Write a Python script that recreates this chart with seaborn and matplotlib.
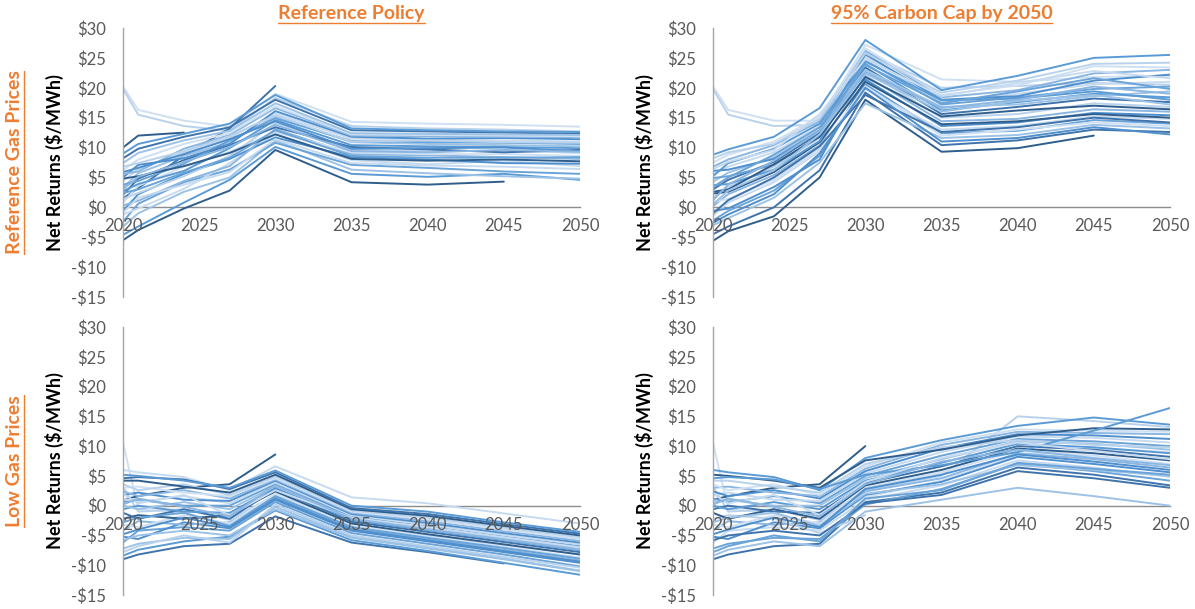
import numpy as np
import pandas as pd
import matplotlib
matplotlib.use("Agg")
import matplotlib.pyplot as plt
from matplotlib.ticker import FuncFormatter
from matplotlib.lines import Line2D
import seaborn as sns

nan = np.nan

# Model years at which net returns were evaluated
years = [2020, 2021, 2024, 2027, 2030, 2035, 2040, 2045, 2050]
x_ticks = [2020, 2025, 2030, 2035, 2040, 2045, 2050]
y_ticks = [-15, -10, -5, 0, 5, 10, 15, 20, 25, 30]

col_titles = ["Reference Policy", "95% Carbon Cap by 2050"]
row_titles = ["Reference Gas Prices", "Low Gas Prices"]
y_label = "Net Returns ($/MWh)"

# Net returns ($/MWh) per resource portfolio, one list per trajectory
ref_policy_ref_gas = [
    [20.2, 16.3, 14.5, 13.5, 19.0, 14.3, 14.0, 13.8, 13.5],
    [19.8, 15.5, 13.6, 12.8, 18.3, 13.6, 13.2, 13.0, 12.7],
    [10.0, 12.0, 12.5, nan, nan, nan, nan, nan, nan],
    [1.5, 3.2, 8.7, 13.2, 20.3, nan, nan, nan, nan],
    [-4.6, -3.2, 0.8, 4.6, 10.1, 5.6, 5.1, 5.6, 4.6],
    [-3.2, -1.0, 2.6, 5.0, 11.2, 6.3, 5.7, 5.2, 4.8],
    [-2.4, 0.6, 4.2, 6.3, 10.8, 7.1, 6.6, 6.0, 5.6],
    [-1.2, -0.2, 3.1, 7.4, 12.3, 7.9, 7.2, 7.8, 6.9],
    [-0.6, 2.2, 5.6, 8.1, 11.7, 8.4, 8.0, 7.4, 7.3],
    [0.3, 1.1, 4.4, 6.9, 13.1, 8.9, 8.7, 8.4, 8.1],
    [0.8, 3.6, 6.8, 9.3, 12.6, 9.2, 8.9, 8.9, 8.6],
    [1.4, 2.4, 5.2, 8.6, 14.1, 9.6, 9.4, 9.5, 9.1],
    [-5.5, -3.8, -0.2, 2.8, 9.6, 4.2, 3.8, 4.3, nan],
    [2.1, 4.8, 7.9, 10.4, 13.4, 10.1, 9.7, 9.2, 9.6],
    [2.7, 3.9, 6.1, 9.9, 14.6, 10.4, 10.2, 10.1, 9.9],
    [3.3, 5.7, 8.6, 10.9, 15.2, 10.9, 10.6, 10.4, 10.2],
    [3.8, 4.4, 7.3, 11.2, 14.9, 11.1, 10.9, 10.8, 10.6],
    [4.4, 6.4, 9.2, 11.6, 15.7, 11.5, 11.3, 11.2, 11.0],
    [5.0, 7.1, 8.2, 10.6, 16.1, 11.8, 11.5, 11.6, 11.4],
    [5.6, 6.0, 9.8, 12.1, 16.6, 12.0, 11.9, 11.8, 11.7],
    [6.2, 8.0, 10.6, 12.4, 16.9, 12.2, 12.1, 12.0, 11.9],
    [6.8, 7.4, 9.4, 11.9, 15.4, 11.0, 11.2, 10.9, 10.8],
    [4.8, 5.2, 6.9, 9.1, 12.2, 8.1, 7.8, 8.0, 7.7],
    [8.2, 9.8, 11.8, 13.4, 18.0, 12.9, 12.7, 12.5, 12.3],
    [9.0, 10.6, 12.3, 14.0, 18.8, 13.2, 12.9, 12.7, 12.6],
    [7.4, 9.1, 11.2, 12.8, 17.4, 12.4, 12.3, 12.2, 12.1],
    [2.4, 3.0, 5.8, 8.3, 12.9, 8.6, 8.3, 8.3, 8.4],
    [-0.9, 1.6, 3.8, 5.9, 11.4, 7.4, 7.0, 6.8, 6.4],
    [5.9, 6.6, 8.9, 11.4, 14.4, 9.8, 9.9, 10.0, 9.4],
    [3.0, 5.1, 7.6, 10.1, 13.8, 9.4, 9.2, 9.6, 9.3],
]

carbon_cap_ref_gas = [
    [20.2, 16.3, 14.5, 14.5, 27.2, 21.4, 21.0, 21.8, 22.0],
    [19.8, 15.5, 13.6, 13.8, 26.0, 20.0, 20.3, 20.8, 20.5],
    [-5.6, -4.0, -1.5, 5.0, 18.0, 9.3, 9.9, 12.0, nan],
    [-4.5, -3.2, 0.0, 6.2, 19.2, 10.4, 11.2, 13.0, 12.6],
    [8.8, 9.7, 11.8, 16.6, 28.0, 19.6, 22.0, 25.0, 25.5],
    [-3.0, -1.8, 1.6, 7.5, 17.4, 11.6, 12.1, 13.8, 13.2],
    [-2.2, -0.6, 2.8, 8.6, 20.6, 12.4, 12.8, 14.6, 14.0],
    [-1.4, 0.8, 4.2, 9.4, 19.8, 13.0, 13.6, 15.2, 14.8],
    [-0.6, -0.2, 3.4, 8.0, 21.4, 13.6, 14.2, 15.8, 15.4],
    [0.2, 2.2, 5.4, 10.4, 22.0, 14.4, 14.8, 16.4, 16.0],
    [0.9, 1.4, 4.6, 9.8, 20.2, 12.0, 13.0, 14.2, 13.6],
    [1.6, 3.4, 6.8, 11.6, 22.8, 15.0, 15.6, 17.4, 16.8],
    [2.3, 2.6, 5.9, 10.9, 21.0, 13.9, 14.4, 15.6, 15.0],
    [3.0, 4.6, 7.6, 12.4, 23.4, 15.6, 16.8, 18.2, 17.6],
    [3.7, 3.9, 6.3, 11.1, 24.0, 16.2, 17.6, 19.0, 18.4],
    [4.3, 5.8, 8.4, 13.0, 23.0, 16.8, 17.2, 18.6, 19.4],
    [4.9, 5.2, 7.1, 12.0, 24.6, 17.2, 18.4, 19.8, 20.2],
    [5.5, 6.8, 9.2, 13.6, 25.2, 17.6, 19.0, 20.6, 21.0],
    [6.1, 6.3, 8.1, 12.8, 25.6, 18.0, 18.6, 21.2, 22.2],
    [6.8, 8.0, 10.4, 14.4, 26.2, 18.4, 19.6, 22.4, 23.0],
    [7.5, 8.8, 11.0, 15.2, 26.6, 18.8, 20.4, 23.6, 23.4],
    [8.2, 9.2, 10.6, 14.8, 25.8, 19.2, 21.2, 24.0, 24.2],
    [2.6, 3.0, 7.2, 11.8, 21.8, 15.2, 16.2, 17.0, 16.4],
    [-1.0, 1.2, 5.0, 10.2, 18.8, 12.6, 13.4, 15.0, 14.2],
    [5.2, 7.4, 9.8, 14.0, 24.4, 17.9, 18.2, 19.4, 18.0],
    [0.5, 2.8, 6.2, 12.2, 22.4, 16.0, 17.8, 18.8, 17.2],
    [3.4, 5.0, 8.8, 13.4, 23.8, 17.4, 19.4, 21.6, 19.8],
    [6.4, 7.6, 9.6, 15.6, 24.8, 18.6, 20.8, 22.8, 21.6],
    [-2.6, -1.2, 2.2, 9.0, 20.0, 11.0, 11.6, 13.4, 12.2],
    [1.2, 3.8, 7.8, 12.8, 22.6, 16.6, 18.0, 20.2, 19.0],
]

ref_policy_low_gas = [
    [10.6, -0.6, -1.2, -3.2, 0.8, -3.6, -5.0, -6.6, -8.2],
    [3.2, -1.0, -0.6, -2.4, 1.8, -2.6, -4.0, -5.6, -7.2],
    [1.0, 1.6, 3.0, 3.6, 8.6, nan, nan, nan, nan],
    [-9.0, -8.2, -6.8, -6.4, -1.8, -6.2, -7.8, -9.7, nan],
    [-8.4, -7.4, -6.0, -5.2, -0.8, -5.8, -7.6, -9.6, -11.6],
    [-7.2, -6.4, -5.4, -5.6, -0.2, -5.2, -7.0, -8.9, -10.9],
    [-6.2, -4.2, -3.6, -4.2, 0.6, -4.6, -6.4, -8.2, -10.2],
    [6.0, 5.6, 4.8, 2.6, 6.6, 1.4, 0.4, -1.3, -3.0],
    [-5.2, -5.6, -2.8, -3.8, 1.0, -4.2, -6.0, -7.8, -9.6],
    [-4.2, -2.6, -3.2, -2.8, 1.4, -3.8, -5.6, -7.4, -9.2],
    [-3.2, -3.6, -1.6, -3.0, 2.0, -3.4, -5.2, -6.9, -8.7],
    [-7.8, -6.8, -5.0, -6.2, 0.2, -5.0, -6.8, -8.6, -10.4],
    [-2.2, -1.6, -2.2, -1.6, 2.4, -3.0, -4.8, -6.5, -8.2],
    [-1.2, -2.2, -0.6, -2.2, 2.8, -2.7, -4.4, -6.1, -7.8],
    [-0.6, 0.0, -1.0, -1.2, 3.0, -2.4, -4.1, -5.8, -7.5],
    [0.0, -0.6, 0.6, -0.6, 3.3, -2.1, -3.8, -5.5, -7.2],
    [0.6, 1.0, 0.0, 0.0, 3.6, -1.8, -3.5, -5.2, -6.8],
    [1.2, 0.6, 1.6, 0.4, 3.9, -1.6, -3.2, -4.9, -6.5],
    [1.8, 2.2, 1.0, 0.8, 4.2, -1.4, -2.9, -4.6, -6.2],
    [2.4, 1.6, 2.6, 1.2, 4.4, -1.2, -2.6, -4.3, -5.9],
    [3.0, 3.2, 2.2, 1.6, 4.6, -1.0, -2.3, -4.0, -5.6],
    [3.6, 2.6, 3.6, 1.8, 4.9, -0.8, -2.0, -3.7, -5.3],
    [4.2, 4.2, 3.2, 2.2, 5.2, -0.6, -1.7, -3.4, -5.0],
    [4.6, 4.8, 4.4, 2.8, 5.6, -0.4, -1.4, -3.1, -4.7],
    [5.2, 5.0, 4.2, 3.0, 5.9, 0.0, -1.0, -2.8, -4.4],
    [-5.8, -5.0, -4.2, -5.0, -0.6, -5.4, -7.2, -9.0, -11.0],
    [-2.8, -2.0, -1.2, -3.4, 1.6, -3.6, -5.4, -7.1, -8.9],
    [2.0, 0.4, 1.8, -1.6, 2.6, -2.0, -3.6, -5.3, -7.0],
    [-4.8, -4.0, -2.0, -3.6, 1.2, -4.0, -5.8, -7.6, -9.4],
    [0.2, 1.2, -0.2, -1.8, 3.4, -2.2, -4.0, -5.7, -7.4],
]

carbon_cap_low_gas = [
    [10.6, -0.6, -1.2, -3.2, 1.4, 4.2, 8.4, 9.6, 9.0],
    [3.2, -1.0, -0.6, -2.4, 2.6, 5.0, 15.0, 14.2, 13.2],
    [1.0, 1.6, 3.0, 3.6, 10.0, nan, nan, nan, nan],
    [-9.0, -8.2, -6.8, -6.4, 0.6, 2.2, 6.4, 5.2, 3.4],
    [6.0, 5.6, 4.8, 2.6, 8.0, 11.0, 13.4, 14.8, 13.6],
    [-8.4, -7.4, -6.0, -6.8, -1.0, 1.0, 3.0, 1.6, 0.0],
    [-7.2, -6.4, -5.4, -5.6, 0.2, 2.8, 7.0, 5.8, 4.2],
    [-6.2, -4.2, -3.6, -4.2, 1.0, 3.4, 7.6, 6.4, 4.8],
    [-5.2, -5.6, -2.8, -3.8, 1.8, 4.0, 8.2, 7.0, 5.6],
    [-4.2, -2.6, -3.2, -2.8, 2.4, 4.6, 8.8, 7.8, 6.4],
    [-3.2, -3.6, -1.6, -3.0, 3.0, 5.6, 9.2, 8.4, 7.0],
    [-2.2, -1.6, -2.2, -4.6, -1.6, nan, nan, nan, nan],
    [-1.2, -2.2, -0.6, -2.2, 3.4, 6.0, 9.6, 8.8, 7.6],
    [-0.6, 0.0, -1.0, -1.2, 3.8, 6.6, 10.0, 9.4, 8.2],
    [0.0, -0.6, 0.6, -0.6, 4.2, 7.2, 10.4, 9.8, 8.8],
    [0.6, 1.0, 0.0, 0.0, 4.6, 7.8, 10.8, 10.4, 9.4],
    [1.2, 0.6, 1.6, 0.4, 5.0, 8.4, 11.2, 10.8, 10.0],
    [1.8, 2.2, 1.0, 0.8, 5.4, 9.0, 11.6, 11.4, 10.6],
    [2.4, 1.6, 2.6, 1.2, 5.8, 9.6, 12.0, 11.8, 11.2],
    [3.0, 3.2, 2.2, 1.6, 6.2, 10.2, 12.4, 12.2, 12.0],
    [3.6, 2.6, 3.6, 1.8, 6.6, 10.6, 12.8, 12.6, 12.4],
    [4.2, 4.2, 3.2, 2.2, 7.0, 9.8, 11.0, 10.2, 9.8],
    [5.2, 5.0, 4.2, 3.0, 7.6, 9.4, 11.8, 13.0, 12.8],
    [-5.8, -5.0, -4.2, -5.0, 0.4, 1.8, 5.8, 4.6, 3.0],
    [4.6, 4.8, 4.4, 2.8, 5.2, 6.8, 9.0, 12.6, 16.4],
    [-2.8, -2.0, -1.2, -3.4, 2.0, 3.6, 6.8, 6.0, 5.0],
    [-7.8, -6.8, -5.0, -6.0, 1.2, 2.6, 7.2, 6.2, 5.2],
    [2.0, 0.4, 1.8, -1.6, 4.0, 8.0, 10.6, 9.2, 7.8],
    [-4.8, -4.0, -2.0, -3.6, 2.8, 5.2, 8.6, 7.4, 6.0],
    [0.2, 1.2, -0.2, -1.8, 3.6, 7.4, 9.4, 8.0, 6.8],
]

panels = [[ref_policy_ref_gas, carbon_cap_ref_gas],
          [ref_policy_low_gas, carbon_cap_low_gas]]

# Monochrome blue shades cycled across trajectories
shades = ["#cfe0f3", "#b9d2ec", "#2f5e8c", "#3f73ab", "#5b9bd5",
          "#9cc2e6", "#6aa3d8", "#c6daf0", "#4f8fcd", "#8ab6e1"]

ORANGE = "#ED7D31"
TICK_GRAY = "#595959"
AXIS_GRAY = "#a6a6a6"

sns.set_style("white")
plt.rcParams["font.family"] = ["Lato", "DejaVu Sans"]

W, H = 1195, 609
fig = plt.figure(figsize=(W / 100, H / 100), dpi=100)

col_left = [123, 713]
ax_w = 457
row_top = [28, 327]
ax_h = [269, 268]


def money(v, _pos):
    v = int(round(v))
    return f"-${abs(v)}" if v < 0 else f"${v}"


def to_long(series):
    rows = []
    for i, vals in enumerate(series):
        for yr, v in zip(years, vals):
            if not np.isnan(v):
                rows.append({"year": yr, "value": v, "series": f"s{i:02d}"})
    return pd.DataFrame(rows)


for r in range(2):
    for c in range(2):
        left = col_left[c] / W
        bottom = 1 - (row_top[r] + ax_h[r]) / H
        ax = fig.add_axes([left, bottom, ax_w / W, ax_h[r] / H])
        series = panels[r][c]
        df = to_long(series)
        pal = [shades[i % len(shades)] for i in range(len(series))]
        sns.lineplot(data=df, x="year", y="value", hue="series",
                     palette=pal, estimator=None, sort=True, legend=False,
                     linewidth=1.4, ax=ax)
        ax.set_axisbelow(False)
        ax.set_xlim(2020, 2050)
        ax.set_ylim(-15, 30)
        ax.set_xticks(x_ticks)
        ax.set_yticks(y_ticks)
        ax.yaxis.set_major_formatter(FuncFormatter(money))
        for s in ("top", "right"):
            ax.spines[s].set_visible(False)
        ax.spines["left"].set_color(AXIS_GRAY)
        ax.spines["left"].set_linewidth(1.0)
        ax.spines["bottom"].set_position(("data", 0))
        ax.spines["bottom"].set_color("#8c8c8c")
        ax.spines["bottom"].set_linewidth(1.0)
        ax.spines["bottom"].set_zorder(1)
        ax.tick_params(axis="both", length=0, labelsize=12,
                       labelcolor=TICK_GRAY)
        ax.tick_params(axis="y", pad=12)
        ax.tick_params(axis="x", pad=8)
        ax.set_xlabel("")
        ax.set_ylabel(y_label, fontsize=13, fontweight="bold", color="black")
        ax.yaxis.set_label_coords(-0.13, 0.5)
        ax.patch.set_alpha(0)

titles = []
for c, t in enumerate(col_titles):
    cx = (col_left[c] + ax_w / 2) / W
    titles.append(("h", fig.text(cx, 1 - 14 / H, t, ha="center", va="center",
                                 fontsize=14, fontweight="bold", color=ORANGE)))
for r, t in enumerate(row_titles):
    cy = 1 - (row_top[r] + ax_h[r] / 2) / H
    titles.append(("v", fig.text(15 / W, cy, t, ha="center", va="center",
                                 rotation=90, fontsize=14, fontweight="bold",
                                 color=ORANGE)))

# Underline the panel headings
fig.canvas.draw()
renderer = fig.canvas.get_renderer()
for kind, txt in titles:
    bb = txt.get_window_extent(renderer)
    if kind == "h":
        y = (bb.y0 - 0.5) / H
        fig.add_artist(Line2D([bb.x0 / W, bb.x1 / W], [y, y],
                              transform=fig.transFigure, color=ORANGE, lw=1.0))
    else:
        x = (bb.x1 + 0.5) / W
        fig.add_artist(Line2D([x, x], [bb.y0 / H, bb.y1 / H],
                              transform=fig.transFigure, color=ORANGE, lw=1.0))

fig.savefig("out.png", dpi=100)
